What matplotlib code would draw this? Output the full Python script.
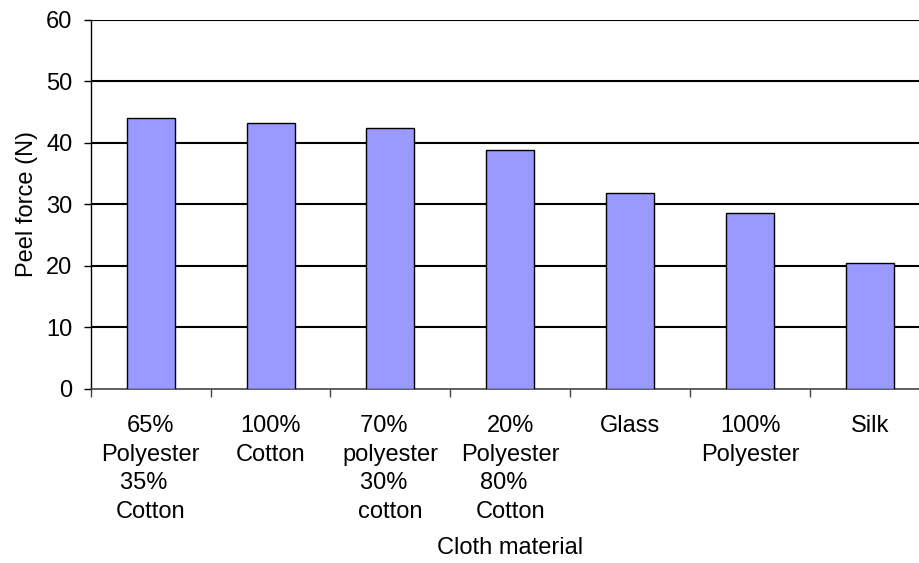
import matplotlib
matplotlib.use("Agg")
import matplotlib.pyplot as plt
import numpy as np

plt.rcParams['font.family'] = ['Liberation Sans', 'DejaVu Sans']

categories = [
    "65%\nPolyester\n35%  \nCotton",
    "100%\nCotton",
    "70%  \npolyester\n30%  \ncotton",
    "20%\nPolyester\n80%  \nCotton",
    "Glass",
    "100%\nPolyester",
    "Silk",
]
peel_force = [44.1, 43.3, 42.4, 38.8, 31.9, 28.6, 20.5]
y_ticks = [0, 10, 20, 30, 40, 50, 60]

W, H = 919, 563
FS = 17
fig = plt.figure(figsize=(W / 100, H / 100), dpi=100)
# plot area runs past the right edge of the figure
ax = fig.add_axes([90.5 / W, (H - 388.5) / H, 840 / W, 368.5 / H])

x = np.arange(len(categories))
ax.bar(x, peel_force, width=0.4, color="#9999FF", edgecolor="black",
       linewidth=1.0, zorder=3)

ax.set_ylim(0, 60)
ax.set_xlim(-0.5, len(categories) - 0.5)
ax.set_yticks(y_ticks)
ax.set_yticklabels([str(v) for v in y_ticks], fontsize=FS)
for v in y_ticks[1:]:
    ax.axhline(v, color="black", linewidth=1.5, zorder=1)

# tick marks sit between categories, labels at category centres
ax.set_xticks(np.arange(len(categories) + 1) - 0.5)
ax.set_xticklabels([])
ax.tick_params(axis="x", which="major", length=5.5, width=1.0, color="#444444",
               direction="out")
ax.set_xticks(x, minor=True)
ax.set_xticklabels(categories, minor=True, fontsize=FS, linespacing=1.40,
                   va="top", ha="center")
ax.tick_params(axis="x", which="minor", length=0, pad=19)
ax.tick_params(axis="y", length=5, width=1.0, direction="out", pad=8)

for s in ("top", "right"):
    ax.spines[s].set_visible(False)
ax.spines["left"].set_linewidth(1.0)
ax.spines["bottom"].set_linewidth(1.2)
ax.spines["bottom"].set_color("#444444")

ax.set_ylabel("Peel force (N)", fontsize=FS)
ax.yaxis.set_label_coords(38 / W, (H - 204) / H, transform=fig.transFigure)
fig.text(510 / W, 1 - 548 / H, "Cloth material", fontsize=FS,
         ha="center", va="center")

fig.savefig("out.png", dpi=100)
